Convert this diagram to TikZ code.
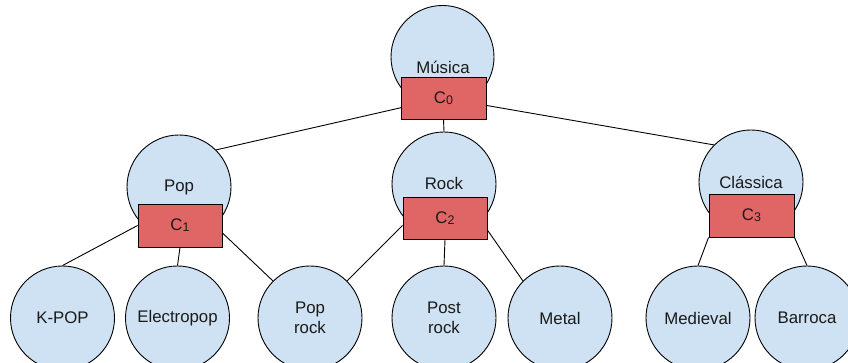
\documentclass[tikz,border=0pt]{standalone}
\usepackage{fontspec}
\setmainfont{Liberation Sans}
\pgfdeclarelayer{discs}
\pgfdeclarelayer{wires}
\pgfsetlayers{discs,wires,main}
\definecolor{discfill}{HTML}{CFE2F3}
\definecolor{boxfill}{HTML}{E06666}
\definecolor{ink}{HTML}{1A1A1A}
% cluster label: capital C with a small lowered index
\newcommand{\clab}[1]{C{\fontsize{12.5}{12.5}\selectfont\raisebox{-1pt}{#1}}}
\tikzset{
  genre/.style={circle, draw=black, line width=0.9pt, fill=discfill,
    minimum size=104pt, inner sep=0pt, text=ink, align=center,
    font=\fontsize{16.8}{19.5}\selectfont},
  cluster/.style={rectangle, draw=black, line width=0.9pt, fill=boxfill,
    minimum width=84pt, minimum height=42pt, inner sep=0pt, text=ink,
    font=\fontsize{16.8}{19.5}\selectfont},
  tag/.style={inner sep=0pt, text=ink, font=\fontsize{16.8}{19.5}\selectfont},
  wire/.style={draw=black, line width=0.9pt}
}
\begin{document}
\begin{tikzpicture}[x=1pt,y=1pt]
\useasboundingbox (0,0) rectangle (848,363);
\clip (0,0) rectangle (848,363);

% white page and genre discs
\begin{pgfonlayer}{discs}
\fill[white] (0,0) rectangle (848,363);
\node[genre, minimum size=103pt] (musica) at (442.5,306) {};
\node[genre] (pop) at (179,176) {Pop};
\node[genre] (rock) at (444,179) {Rock};
\node[genre] (classica) at (751,181) {Clássica};
\node[genre] (kpop) at (62.5,45) {K-POP};
\node[genre] (electropop) at (177.5,45) {Electropop};
\node[genre] (poprock) at (310,45) {Pop\\rock};
\node[genre] (postrock) at (444,45) {Post\\rock};
\node[genre] (metal) at (560,45) {Metal};
\node[genre] (medieval) at (698,45) {Medieval};
\node[genre] (barroca) at (807,45) {Barroca};
\end{pgfonlayer}

\node[tag] (musicalabel) at (443,296) {Música};

% cluster boxes
\node[cluster, minimum width=85pt] (c0) at (443.5,265) {\clab{0}};
\node[cluster, minimum height=43pt] (c1) at (180,137.5) {\clab{1}};
\node[cluster] (c2) at (445,145) {\clab{2}};
\node[cluster, minimum width=85pt, minimum height=43pt] (c3) at (751.5,147.5) {\clab{3}};

% connectors
\begin{pgfonlayer}{wires}
\draw[wire] (c0.center) -- (pop.45);
\draw[wire] (c0.south) -- (rock.north);
\draw[wire] (c0.center) -- (classica.135);
\draw[wire] (c1.west) -- (kpop.north);
\draw[wire] (c1.south) -- (electropop.north);
\draw[wire] (c1.-10) -- (poprock.135);
\draw[wire] (c2.190) -- (poprock.45);
\draw[wire] (c2.south) -- (postrock.north);
\draw[wire] (c2.-16) -- (metal.135);
\draw[wire] (c3.south west) -- (medieval.north);
\draw[wire] (c3.south east) -- (barroca.north);
\end{pgfonlayer}
\end{tikzpicture}
\end{document}
